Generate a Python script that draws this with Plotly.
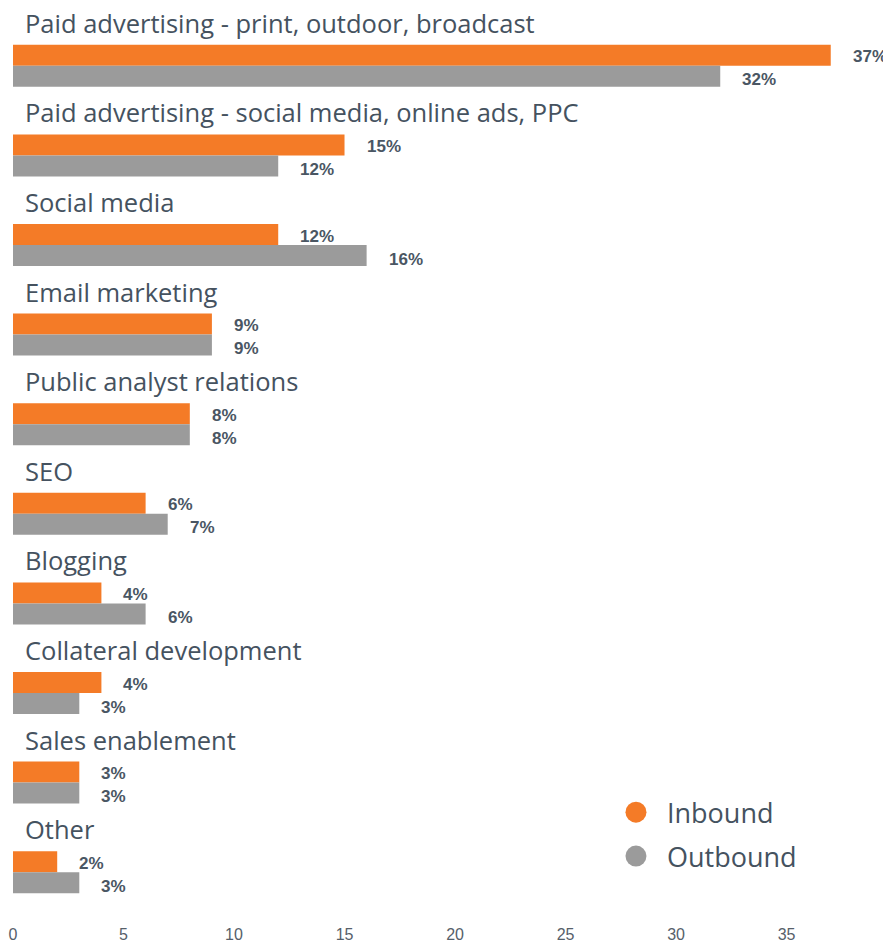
import plotly.graph_objects as go

categories = [
    "Paid advertising - print, outdoor, broadcast",
    "Paid advertising - social media, online ads, PPC",
    "Social media",
    "Email marketing",
    "Public analyst relations",
    "SEO",
    "Blogging",
    "Collateral development",
    "Sales enablement",
    "Other",
]
inbound = [37, 15, 12, 9, 8, 6, 4, 4, 3, 2]
outbound = [32, 12, 16, 9, 8, 7, 6, 3, 3, 3]
x_ticks = [0, 5, 10, 15, 20, 25, 30, 35]

ORANGE = "#f47b27"
GRAY = "#9b9b9b"
TEXT = "#45525f"
VAL = "#4a5663"

fig = go.Figure()
fig.add_trace(go.Bar(y=categories, x=inbound, orientation="h", name="Inbound",
                     marker=dict(color=ORANGE, line=dict(width=0)), showlegend=False))
fig.add_trace(go.Bar(y=categories, x=outbound, orientation="h", name="Outbound",
                     marker=dict(color=GRAY, line=dict(width=0)), showlegend=False))

annotations = []
for c, vi, vo in zip(categories, inbound, outbound):
    annotations.append(dict(x=0, y=c, xref="x", yref="y", text=c, showarrow=False,
                            xanchor="left", yanchor="middle", xshift=10, yshift=43,
                            font=dict(family="Open Sans", size=25.5, color=TEXT)))
    annotations.append(dict(x=vi, y=c, xref="x", yref="y", text=f"{vi}%", showarrow=False,
                            xanchor="left", yanchor="middle", xshift=20, yshift=9,
                            font=dict(family="Arial, Liberation Sans", size=17, color=VAL, weight="bold")))
    annotations.append(dict(x=vo, y=c, xref="x", yref="y", text=f"{vo}%", showarrow=False,
                            xanchor="left", yanchor="middle", xshift=20, yshift=-14,
                            font=dict(family="Arial, Liberation Sans", size=17, color=VAL, weight="bold")))

legend_items = [("Inbound", ORANGE, 0.117), ("Outbound", GRAY, 0.068)]
shapes = []
for name, col, yy in legend_items:
    shapes.append(dict(type="circle", xref="paper", yref="paper", xsizemode="pixel", ysizemode="pixel",
                       xanchor=0.7136, yanchor=yy, x0=-10.5, x1=10.5, y0=-10.5, y1=10.5,
                       fillcolor=col, line=dict(width=0)))
    annotations.append(dict(x=0.7514, y=yy, xref="paper", yref="paper", text=name, showarrow=False,
                            xanchor="left", yanchor="middle", xshift=-4,
                            font=dict(family="Open Sans", size=27, color=TEXT)))

fig.update_layout(
    width=883, height=936,
    margin=dict(l=5, r=5, t=13, b=27),
    plot_bgcolor="white", paper_bgcolor="white",
    barmode="group", bargap=0.531, bargroupgap=0,
    annotations=annotations, shapes=shapes,
    showlegend=False,
    xaxis=dict(range=[0, 39.5], tickvals=x_ticks, showgrid=False, zeroline=False, showline=False,
               automargin=False, ticklabelstandoff=6,
               tickfont=dict(family="Arial, Liberation Sans", size=16, color="#56606a")),
    yaxis=dict(type="category", categoryorder="array", categoryarray=categories, automargin=False,
               range=[9.5, -0.5], showticklabels=False, showgrid=False, zeroline=False, showline=False),
)

fig.write_html("out.html")
